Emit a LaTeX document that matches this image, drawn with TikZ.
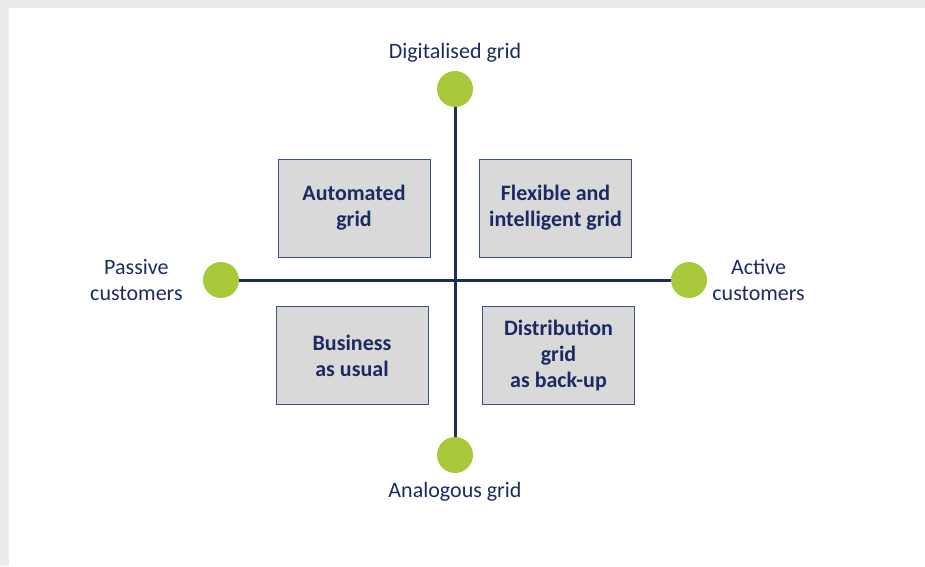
\documentclass[tikz,border=0pt]{standalone}
\usepackage{fontspec}
\setmainfont{Carlito}
\usetikzlibrary{positioning}
\definecolor{navy}{RGB}{28,42,100}
\definecolor{dotgreen}{RGB}{168,201,58}
\definecolor{boxgray}{RGB}{217,217,217}
\definecolor{boxline}{RGB}{60,80,138}
\definecolor{framegray}{RGB}{235,235,235}
\begin{document}
\begin{tikzpicture}
    [x=1pt,y=1pt,
     dot/.style={circle,fill=dotgreen,minimum size=36pt,inner sep=0pt},
     quad/.style={rectangle,draw=boxline,line width=0.8pt,fill=boxgray,
       minimum width=152pt,minimum height=98pt,align=center,text=navy,
       font=\fontsize{22}{26}\selectfont\bfseries},
     axislabel/.style={align=center,text=navy,inner sep=2pt,
       font=\fontsize{22}{26}\selectfont},
     axis/.style={draw=navy,line width=3pt}]

    \useasboundingbox (0,0) rectangle (925,566);
    \fill[framegray] (0,558) rectangle (925,566);
    \fill[framegray] (0,0) rectangle (9,566);

    \node[dot] (digital) at (455,477) {};
    \node[dot] (analog) at (455,111) {};
    \node[dot] (passive) at (221,286) {};
    \node[dot] (active) at (689,286) {};

    \draw[axis] (digital) -- (analog);
    \draw[axis] (passive) -- (active);

    \node[axislabel] (digitallabel) [above=6pt of digital] {Digitalised grid};
    \node[axislabel] (analoglabel) [below=7pt of analog] {Analogous grid};
    \node[axislabel] (passivelabel) [left=18pt of passive] {Passive\\customers};
    \node[axislabel] (activelabel) [right=3pt of active] {Active\\customers};

    \node[quad] (automated) at (354,358) {Automated\\grid};
    \node[quad] (flexible) at (555.5,358) {Flexible and\\intelligent grid};
    \node[quad] (business) at (352,210.5) {Business\\as usual};
    \node[quad] (backup) at (558.5,210.5) {Distribution\\grid\\as back-up};
\end{tikzpicture}
\end{document}
